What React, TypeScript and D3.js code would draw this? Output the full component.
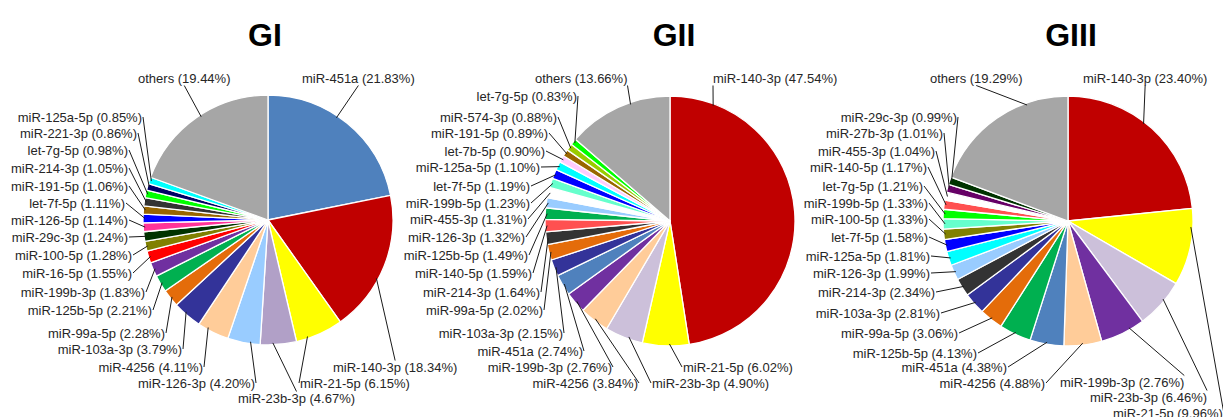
import React, { useEffect, useRef } from 'react';
import * as d3 from 'd3';

// ---------- DATA ----------
const TITLES = ['GI', 'GII', 'GIII'];

const GI_NAMES = ['miR-451a', 'miR-140-3p', 'miR-21-5p', 'miR-23b-3p', 'miR-126-3p', 'miR-4256', 'miR-103a-3p', 'miR-99a-5p', 'miR-125b-5p', 'miR-199b-3p', 'miR-16-5p', 'miR-100-5p', 'miR-29c-3p', 'miR-126-5p', 'let-7f-5p', 'miR-191-5p', 'miR-214-3p', 'let-7g-5p', 'miR-221-3p', 'miR-125a-5p', 'others'];
const GI_VALUES = [21.83, 18.34, 6.15, 4.67, 4.2, 4.11, 3.79, 2.28, 2.21, 1.83, 1.55, 1.28, 1.24, 1.14, 1.11, 1.06, 1.05, 0.98, 0.86, 0.85, 19.44];
const GI_LABEL_PCT = GI_VALUES;

const GII_NAMES = ['miR-140-3p', 'miR-21-5p', 'miR-23b-3p', 'miR-4256', 'miR-199b-3p', 'miR-451a', 'miR-103a-3p', 'miR-99a-5p', 'miR-214-3p', 'miR-140-5p', 'miR-125b-5p', 'miR-126-3p', 'miR-455-3p', 'miR-199b-5p', 'let-7f-5p', 'miR-125a-5p', 'let-7b-5p', 'miR-191-5p', 'miR-574-3p', 'let-7g-5p', 'others'];
const GII_VALUES = [47.54, 6.02, 4.9, 3.84, 2.76, 2.74, 2.15, 2.02, 1.64, 1.59, 1.49, 1.32, 1.31, 1.23, 1.19, 1.1, 0.9, 0.89, 0.88, 0.83, 13.66];
const GII_LABEL_PCT = GII_VALUES;

const GIII_NAMES = ['miR-140-3p', 'miR-21-5p', 'miR-23b-3p', 'miR-199b-3p', 'miR-4256', 'miR-451a', 'miR-125b-5p', 'miR-99a-5p', 'miR-103a-3p', 'miR-214-3p', 'miR-126-3p', 'miR-125a-5p', 'let-7f-5p', 'miR-100-5p', 'miR-199b-5p', 'let-7g-5p', 'miR-140-5p', 'miR-455-3p', 'miR-27b-3p', 'miR-29c-3p', 'others'];
const GIII_VALUES = [23.4, 9.96, 6.46, 5.83, 4.88, 4.38, 4.13, 3.06, 2.81, 2.34, 1.99, 1.81, 1.58, 1.33, 1.33, 1.21, 1.17, 1.04, 1.01, 0.99, 19.29];
// label text as printed in the source (slice of miR-199b-3p is drawn larger than its label)
const GIII_LABEL_PCT = [23.4, 9.96, 6.46, 2.76, 4.88, 4.38, 4.13, 3.06, 2.81, 2.34, 1.99, 1.81, 1.58, 1.33, 1.33, 1.21, 1.17, 1.04, 1.01, 0.99, 19.29];

// ---------- STYLE ----------
const GI_COLORS = ['#4F81BD', '#C00000', '#FFFF00', '#B1A0C7', '#99CCFF', '#FFCC99', '#333399', '#E46C0A', '#00B050', '#7030A0', '#FF0000', '#808000', '#003300', '#FF3399', '#0000FF', '#996600', '#333333', '#00FF00', '#000066', '#00FFFF', '#A6A6A6'];
const GII_COLORS = ['#C00000', '#FFFF00', '#CCC0DA', '#FFCC99', '#7030A0', '#4F81BD', '#333399', '#E46C0A', '#333333', '#FF5050', '#00B050', '#99CCFF', '#FFFFFF', '#66FFCC', '#0000FF', '#00FFFF', '#FFCCFF', '#996600', '#99CC00', '#00FF00', '#A6A6A6'];
const GIII_COLORS = ['#C00000', '#FFFF00', '#CCC0DA', '#7030A0', '#FFCC99', '#4F81BD', '#00B050', '#E46C0A', '#333399', '#333333', '#99CCFF', '#00FFFF', '#0000FF', '#808000', '#66FFCC', '#00FF00', '#FF5050', '#FFFFFF', '#660066', '#003300', '#A6A6A6'];

// ---------- LAYOUT ----------
// label placement: x, y-center, text anchor, leader attach side, [leader start position within slice 0..1]
type Pos = [number, number, 's' | 'e', string, number?];
const GI_LAYOUT: Pos[] = [
  [302, 78, 's', 'b', 0.43], [333, 367, 's', 't', 0.6], [300, 383, 's', 'l', 0.75], [238, 398, 's', 't', 0.65],
  [255, 383, 'e', 'r', 0.3], [203, 367, 'e', 'r', 0.7], [182, 349, 'e', 'r', 0.6], [165, 333, 'e', 'r'],
  [152, 310, 'e', 'r'], [145, 292, 'e', 'r'], [132, 273, 'e', 'r'], [132, 255, 'e', 'r'],
  [128, 237, 'e', 'r'], [128, 220, 'e', 'r'], [125, 203, 'e', 'r'], [128, 186, 'e', 'r'],
  [128, 168, 'e', 'r'], [128, 150, 'e', 'r'], [137, 133, 'e', 'r'], [142, 117, 'e', 'r'],
  [138, 78, 's', 'b', 0.53],
];
const GII_LAYOUT: Pos[] = [
  [713, 78, 's', 'bl', 0.12], [683, 367, 's', 'l', 0.42], [652, 383, 's', 'l', 0.38], [638, 383, 'e', 'r'],
  [612, 367, 'e', 'r'], [583, 351, 'e', 'r'], [563, 333, 'e', 'r'], [543, 310, 'e', 'r'],
  [540, 292, 'e', 'r'], [532, 273, 'e', 'r'], [528, 255, 'e', 'r'], [525, 237, 'e', 'r'],
  [527, 219, 'e', 'r'], [530, 203, 'e', 'r'], [530, 186, 'e', 'r'], [540, 167, 'e', 'r'],
  [545, 151, 'e', 'r'], [548, 133, 'e', 'r'], [557, 117, 'e', 'r'], [577, 96, 'e', 'r'],
  [535, 78, 's', 'br', 0.62],
];
const GIII_LAYOUT: Pos[] = [
  [1083, 78, 's', 'b', 0.45], [1113, 413, 's', 'r', 0.24], [1090, 397, 's', 'tr', 0.4], [1060, 382, 's', 'tr', 0.33],
  [1045, 383, 'e', 'r'], [1007, 367, 'e', 'r'], [977, 353, 'e', 'r'], [958, 333, 'e', 'r'],
  [940, 313, 'e', 'r'], [935, 292, 'e', 'r'], [930, 273, 'e', 'r'], [930, 256, 'e', 'r'],
  [928, 237, 'e', 'r'], [928, 219, 'e', 'r'], [928, 203, 'e', 'r'], [923, 186, 'e', 'r'],
  [927, 167, 'e', 'r'], [935, 151, 'e', 'r'], [943, 133, 'e', 'r'], [957, 117, 'e', 'r'],
  [930, 78, 's', 'b', 0.72],
];

const PIES = [
  { title: TITLES[0], names: GI_NAMES, values: GI_VALUES, pct: GI_LABEL_PCT, colors: GI_COLORS, layout: GI_LAYOUT, cx: 268, cy: 220, tx: 265 },
  { title: TITLES[1], names: GII_NAMES, values: GII_VALUES, pct: GII_LABEL_PCT, colors: GII_COLORS, layout: GII_LAYOUT, cx: 670, cy: 221, tx: 674 },
  { title: TITLES[2], names: GIII_NAMES, values: GIII_VALUES, pct: GIII_LABEL_PCT, colors: GIII_COLORS, layout: GIII_LAYOUT, cx: 1068, cy: 221, tx: 1071 },
];

const W = 1223;
const H = 417;
const R = 125;
const FONT = '"Liberation Sans", Arial, sans-serif';

export default function App() {
  const ref = useRef<SVGSVGElement>(null);

  useEffect(() => {
    const svg = d3.select(ref.current);
    svg.selectAll('*').remove();
    svg.append('rect').attr('width', W).attr('height', H).attr('fill', '#fff');

    PIES.forEach((p) => {
      const arcs = d3.pie<number>().sort(null).value((d) => d)(p.values);
      const arcGen = d3.arc<d3.PieArcDatum<number>>().innerRadius(0).outerRadius(R);

      svg.append('text')
        .attr('x', p.tx).attr('y', 46)
        .attr('text-anchor', 'middle')
        .attr('font-family', FONT).attr('font-weight', 'bold').attr('font-size', 32)
        .attr('fill', '#000')
        .text(p.title);

      const g = svg.append('g').attr('transform', `translate(${p.cx},${p.cy})`);
      g.selectAll('path')
        .data(arcs)
        .join('path')
        .attr('d', arcGen as any)
        .attr('fill', (_, i) => p.colors[i])
        .attr('stroke', '#fff')
        .attr('stroke-width', 1.3)
        .attr('stroke-linejoin', 'round');

      const lineLayer = svg.append('g');
      const textLayer = svg.append('g');

      arcs.forEach((a, i) => {
        const [lx, ly, anchor, attach, frac] = p.layout[i];
        const t = textLayer.append('text')
          .attr('x', lx).attr('y', ly + 4.6)
          .attr('text-anchor', anchor === 'e' ? 'end' : 'start')
          .attr('font-family', FONT).attr('font-size', 13)
          .attr('fill', '#262626')
          .text(`${p.names[i]} (${p.pct[i].toFixed(2)}%)`);
        const bb = (t.node() as SVGTextElement).getBBox();
        const x1 = bb.x, x2 = bb.x + bb.width;
        const top = ly - 6.5, bottom = ly + 6.5;
        let ax = x2 + 1, ay = ly;
        if (attach === 'l') { ax = x1 - 1; ay = ly; }
        else if (attach === 't') { ax = (x1 + x2) / 2; ay = top; }
        else if (attach === 'b') { ax = (x1 + x2) / 2; ay = bottom + 1; }
        else if (attach === 'tr') { ax = x2; ay = top; }
        else if (attach === 'br') { ax = x2; ay = bottom + 1; }
        else if (attach === 'bl') { ax = x1; ay = bottom + 1; }
        const f = frac === undefined ? 0.5 : frac;
        const ang = a.startAngle + (a.endAngle - a.startAngle) * f;
        const ex = p.cx + (R - 2) * Math.sin(ang);
        const ey = p.cy - (R - 2) * Math.cos(ang);
        lineLayer.append('line')
          .attr('x1', ex).attr('y1', ey).attr('x2', ax).attr('y2', ay)
          .attr('stroke', '#1a1a1a').attr('stroke-width', 1);
      });
    });
  }, []);

  return (
    <svg
      ref={ref}
      width={W}
      height={H}
      style={{ position: 'absolute', left: 0, top: 0, background: '#fff' }}
    />
  );
}
